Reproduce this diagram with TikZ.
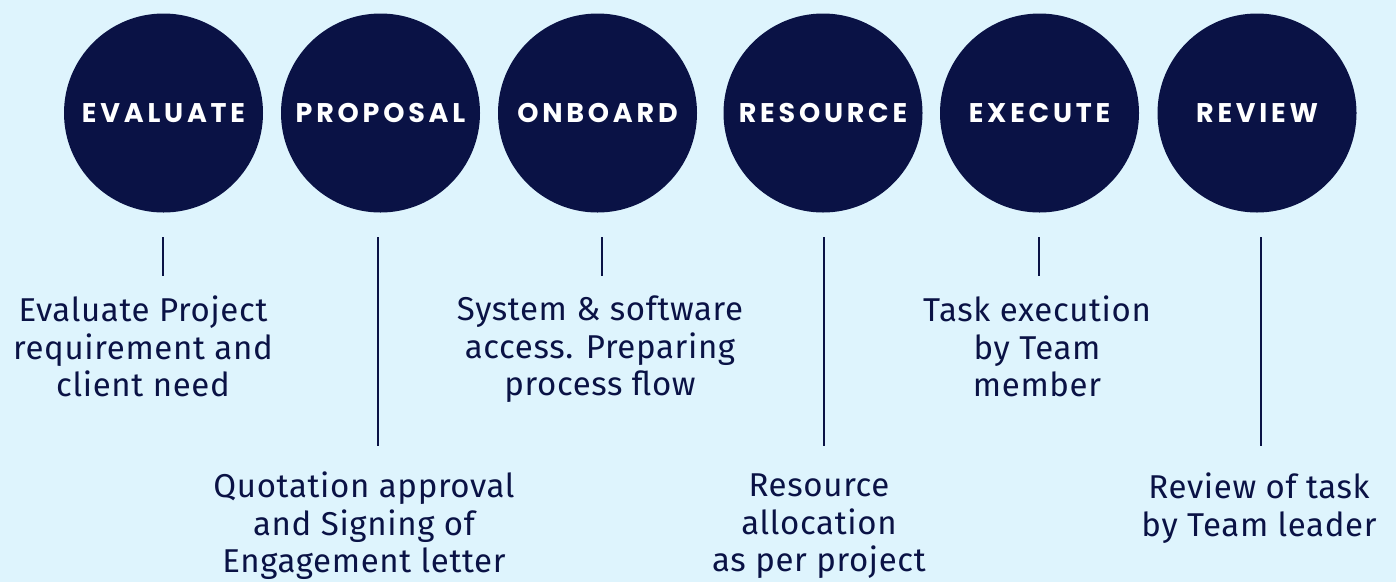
\documentclass[tikz,border=0pt]{standalone}
\usepackage{fontspec}
\newfontfamily\titlefont[LetterSpace=14]{Poppins}
\newfontfamily\bodyfont[LetterSpace=2]{Fira Sans}
\definecolor{bgblue}{HTML}{DEF4FD}
\definecolor{navy}{HTML}{0A1245}
\tikzset{
  stepcircle/.style={circle, fill=navy, inner sep=0pt, minimum size=199pt, text=white,
    font=\titlefont\bfseries\fontsize{27}{30}\selectfont},
  desc/.style={anchor=north, inner sep=0pt, align=center, text=navy,
    font=\bodyfont\fontsize{33}{37.5}\selectfont},
  tick/.style={draw=navy, line width=2pt}
}
\begin{document}
\begin{tikzpicture}[x=1pt,y=-1pt]
\fill[bgblue] (0,0) rectangle (1396,582);
\useasboundingbox (0,0) rectangle (1396,582);

\node[stepcircle] (c1) at (163.5,113) {EVALUATE};
\node[stepcircle] (c2) at (380.5,113) {PROPOSAL};
\node[stepcircle] (c3) at (597.5,113) {ONBOARD};
\node[stepcircle] (c4) at (823,113) {RESOURCE};
\node[stepcircle] (c5) at (1039.5,113) {EXECUTE};
\node[stepcircle] (c6) at (1257,113) {REVIEW};

\coordinate (t1a) at (163,237);  \coordinate (t1b) at (163,276);
\coordinate (t2a) at (378,237);  \coordinate (t2b) at (378,446);
\coordinate (t3a) at (602,237);  \coordinate (t3b) at (602,276);
\coordinate (t4a) at (824,237);  \coordinate (t4b) at (824,446);
\coordinate (t5a) at (1039,237); \coordinate (t5b) at (1039,276);
\coordinate (t6a) at (1261,237); \coordinate (t6b) at (1261,446);
\draw[tick] (t1a) -- (t1b);
\draw[tick] (t2a) -- (t2b);
\draw[tick] (t3a) -- (t3b);
\draw[tick] (t4a) -- (t4b);
\draw[tick] (t5a) -- (t5b);
\draw[tick] (t6a) -- (t6b);

\node[desc] (d1) at (143,296) {Evaluate Project\\requirement and\\client need};
\node[desc] (d2) at (364,472) {Quotation approval\\and Signing of\\Engagement letter};
\node[desc] (d3) at (600,296) {System \& software\\access. Preparing\\process flow};
\node[desc] (d4) at (819,474) {Resource\\allocation\\as per project};
\node[desc] (d5) at (1037,296) {Task execution\\by Team\\member};
\node[desc] (d6) at (1259,473) {Review of task\\by Team leader};
\end{tikzpicture}
\end{document}
